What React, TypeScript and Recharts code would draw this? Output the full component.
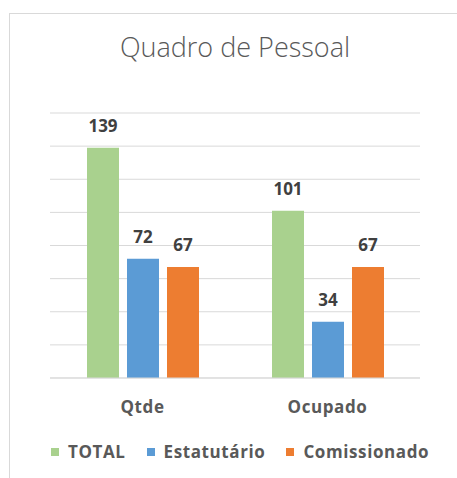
import React from 'react';
import { BarChart, Bar, XAxis, YAxis, CartesianGrid, LabelList } from 'recharts';

const categories = ['Qtde', 'Ocupado'];
const totalValues = [139, 101];
const estatutarioValues = [72, 34];
const comissionadoValues = [67, 67];
const yTicks = [0, 20, 40, 60, 80, 100, 120, 140, 160];

const series = [
  { key: 'total', name: 'TOTAL', color: '#A9D18E', values: totalValues },
  { key: 'estatutario', name: 'Estatutário', color: '#5B9BD5', values: estatutarioValues },
  { key: 'comissionado', name: 'Comissionado', color: '#ED7D31', values: comissionadoValues },
];

const data = categories.map((c, i) => {
  const row: any = { name: c };
  series.forEach((s) => {
    row[s.key] = s.values[i];
  });
  return row;
});

const font = '"Open Sans", Lato, sans-serif';

export default function App() {
  return (
    <div style={{ position: 'absolute', left: 0, top: 0, width: 457, height: 478, background: '#fff', overflow: 'hidden', fontFamily: font }}>
      <div style={{ position: 'absolute', left: 9, top: 13, width: 470, height: 490, border: '1px solid #d9d9d9' }} />
      <div style={{ position: 'absolute', left: 0, top: 28, width: 470, textAlign: 'center', fontSize: 27, color: '#595959', fontWeight: 300 }}>
        Quadro de Pessoal
      </div>
      <div style={{ position: 'absolute', left: 0, top: 0 }}>
        <BarChart
          width={457}
          height={478}
          data={data}
          margin={{ top: 113, right: 37, bottom: 70, left: 50 }}
          barGap={8}
          barCategoryGap="19%"
        >
          <CartesianGrid vertical={false} stroke="#d9d9d9" strokeWidth={1} />
          <YAxis hide domain={[0, 160]} ticks={yTicks} />
          <XAxis
            dataKey="name"
            height={30}
            axisLine={{ stroke: '#d9d9d9' }}
            tickLine={false}
            tickSize={0}
            tickMargin={23}
            tick={{ fill: '#595959', fontSize: 17, fontWeight: 700, fontFamily: font, letterSpacing: 0.6 }}
          />
          {series.map((s) => (
            <Bar key={s.key} dataKey={s.key} name={s.name} fill={s.color} barSize={32} isAnimationActive={false}>
              <LabelList
                dataKey={s.key}
                position="top"
                offset={16}
                style={{ fill: '#404040', fontSize: 17, fontWeight: 700, fontFamily: font }}
              />
            </Bar>
          ))}
        </BarChart>
      </div>
      <div style={{ position: 'absolute', left: 51, top: 440, display: 'flex', alignItems: 'center', fontSize: 17, fontWeight: 700, color: '#595959', letterSpacing: 0.6 }}>
        {series.map((s) => (
          <span key={s.key} style={{ display: 'flex', alignItems: 'center', marginRight: 21 }}>
            <span style={{ width: 8, height: 8, background: s.color, marginRight: 9 }} />
            {s.name}
          </span>
        ))}
      </div>
    </div>
  );
}
